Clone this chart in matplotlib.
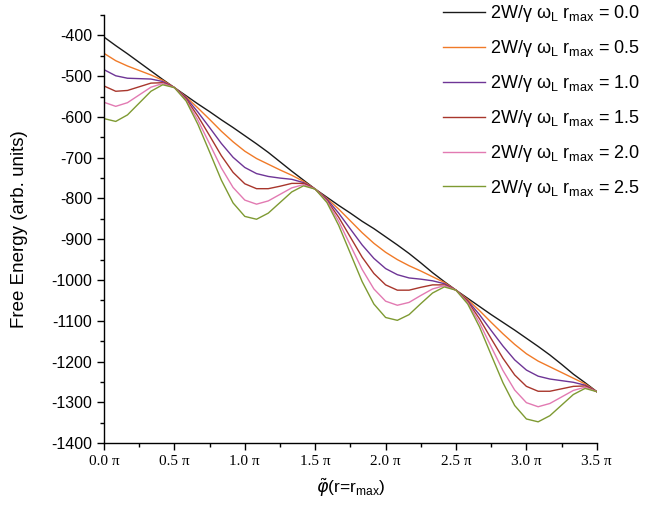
import numpy as np
import matplotlib
matplotlib.use("Agg")
import matplotlib.pyplot as plt
from matplotlib.ticker import MultipleLocator, FuncFormatter

# phase grid: k * pi/12, k = 0..42  (values in units of pi)
phi = np.arange(43) / 12.0

w_labels = ["0.0", "0.5", "1.0", "1.5", "2.0", "2.5"]

F_00 = [-404, -425, -445, -466, -487, -508,
        -528, -548, -568, -587, -607, -626, -646, -666, -687, -710, -733, -755,
        -777, -797, -817, -836, -856, -874, -894, -914, -935, -958, -982, -1004,
        -1025, -1045, -1065, -1085, -1104, -1123, -1143, -1163, -1184, -1207, -1231, -1252,
        -1274]
F_05 = [-444, -462, -475, -486, -497, -510,
        -528, -551, -578, -606, -635, -661, -684, -702, -716, -730, -743, -758,
        -777, -800, -826, -855, -884, -910, -932, -950, -965, -978, -992, -1006,
        -1025, -1048, -1075, -1104, -1132, -1158, -1181, -1199, -1213, -1227, -1241, -1255,
        -1274]
F_10 = [-484, -499, -505, -506, -507, -513,
        -528, -553, -588, -626, -665, -699, -724, -739, -746, -750, -753, -761,
        -777, -802, -836, -875, -914, -947, -972, -987, -995, -998, -1002, -1009,
        -1025, -1051, -1085, -1124, -1162, -1196, -1221, -1236, -1243, -1247, -1251, -1258,
        -1274]
F_15 = [-524, -537, -535, -526, -517, -516,
        -528, -556, -598, -646, -695, -736, -764, -776, -776, -770, -763, -763,
        -777, -805, -846, -895, -944, -984, -1012, -1025, -1025, -1018, -1012, -1012,
        -1025, -1053, -1095, -1144, -1192, -1233, -1261, -1273, -1273, -1267, -1261, -1260,
        -1274]
F_20 = [-564, -574, -565, -546, -527, -518,
        -528, -559, -608, -666, -725, -773, -804, -814, -806, -790, -774, -766,
        -777, -807, -856, -915, -974, -1022, -1052, -1062, -1055, -1038, -1022, -1014,
        -1025, -1056, -1105, -1164, -1222, -1270, -1301, -1311, -1303, -1287, -1271, -1263,
        -1274]
F_25 = [-604, -611, -595, -566, -537, -521,
        -528, -561, -618, -686, -755, -811, -844, -851, -836, -810, -784, -769,
        -777, -810, -866, -935, -1004, -1059, -1092, -1099, -1085, -1058, -1032, -1017,
        -1025, -1059, -1115, -1184, -1252, -1308, -1341, -1348, -1333, -1307, -1281, -1266,
        -1274]

series = [F_00, F_05, F_10, F_15, F_20, F_25]
colors = ["#1a1a1a", "#f07a28", "#6e3596", "#a8362c", "#e27ab2", "#7e9a32"]

plt.rcParams["font.family"] = ["Liberation Sans", "DejaVu Sans"]

fig = plt.figure(figsize=(6.48, 5.19), dpi=100)
ax = fig.add_axes([0.1605, 0.1464, 0.7605, 0.8246])

handles = []
for F, c, w in zip(series, colors, w_labels):
    h, = ax.plot(phi, F, color=c, lw=1.0,
                 label="2W/\u03b3 \u03c9$_\\mathregular{L}$ r$_\\mathregular{max}$ = " + w)
    handles.append(h)

ax.set_xlim(0, 3.5)
ax.set_ylim(-1400, -350)
ax.xaxis.set_major_locator(MultipleLocator(0.5))
ax.xaxis.set_minor_locator(MultipleLocator(0.25))
ax.yaxis.set_major_locator(MultipleLocator(100))
ax.yaxis.set_minor_locator(MultipleLocator(50))
ax.xaxis.set_major_formatter(FuncFormatter(lambda v, p: "%.1f \u03c0" % v))
ax.yaxis.set_major_formatter(FuncFormatter(lambda v, p: "%d" % v))

for s in ["top", "right"]:
    ax.spines[s].set_visible(False)
for s in ["left", "bottom"]:
    ax.spines[s].set_linewidth(1.0)
ax.tick_params(which="major", direction="out", length=5, width=1.0, labelsize=11.5)
ax.tick_params(which="minor", direction="out", length=3, width=1.0)
for lab in ax.get_xticklabels():
    lab.set_fontfamily("Liberation Serif")
    lab.set_fontsize(11)

ax.set_ylabel("Free Energy (arb. units)", fontsize=13.5, labelpad=17)
ax.set_xlabel("$\\tilde{\\varphi}$(r=r$_\\mathregular{max}$)", fontsize=12.5, labelpad=6)

fig.legend(handles=handles, loc="upper right", bbox_to_anchor=(1.013, 1.025),
           frameon=False, fontsize=13, handlelength=2.3, handletextpad=0.3,
           labelspacing=0.77)

fig.savefig("out.png", dpi=100)
